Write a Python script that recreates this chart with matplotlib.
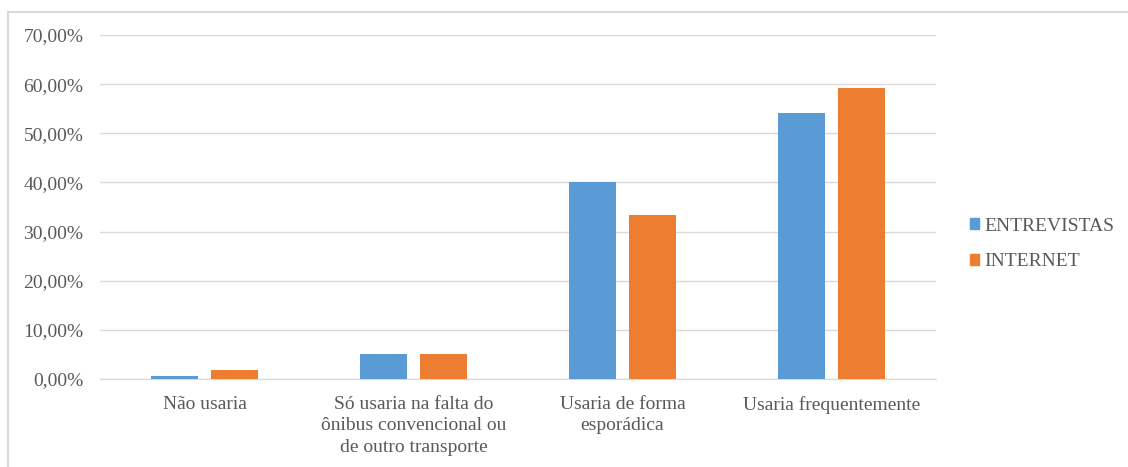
import numpy as np
import matplotlib.pyplot as plt
from matplotlib.lines import Line2D
from matplotlib.patches import Patch

categories = ['Não usaria',
              'Só usaria na falta do\nônibus convencional ou\nde outro transporte',
              'Usaria de forma\nesporádica',
              'Usaria frequentemente']
entrevistas = [0.6, 5.1, 40.0, 54.2]
internet = [1.9, 5.1, 33.3, 59.3]
series_names = ['ENTREVISTAS', 'INTERNET']
colors = ['#5b9bd5', '#ed7d31']
yticks = [0, 10, 20, 30, 40, 50, 60, 70]

plt.rcParams['font.family'] = ['Liberation Serif', 'DejaVu Serif']
text_color = '#595959'
fs = 14

fig = plt.figure(figsize=(11.28, 4.67), dpi=100)
ax = fig.add_axes([100 / 1128, 1 - 379 / 467, 836 / 1128, 344 / 467])

x = np.arange(len(categories))
w = 0.225
off = 0.143
ax.bar(x - off, entrevistas, w, color=colors[0], zorder=3)
ax.bar(x + off, internet, w, color=colors[1], zorder=3)

ax.set_xlim(-0.5, len(categories) - 0.5)
ax.set_ylim(0, 70)
ax.set_yticks(yticks)
ax.set_yticklabels(['%d,00%%' % v for v in yticks], fontsize=fs, color=text_color)
ax.set_xticks(x)
ax.set_xticklabels(categories, fontsize=fs, color=text_color, linespacing=1.37)
ax.tick_params(length=0)
ax.tick_params(axis='y', pad=12)
ax.tick_params(axis='x', pad=12)
ax.yaxis.grid(True, color='#d9d9d9', linewidth=1, zorder=0)
for s in ['top', 'right', 'left']:
    ax.spines[s].set_visible(False)
ax.spines['bottom'].set_color('#d9d9d9')

handles = [Patch(color=c) for c in colors]
fig.legend(handles, series_names, loc='center left', bbox_to_anchor=(952 / 1128, 1 - 244 / 467),
           frameon=False, fontsize=fs, labelcolor=text_color, handlelength=0.5, handleheight=0.5,
           handletextpad=0.25, labelspacing=0.95)

# outer chart border
fig.add_artist(Line2D([8 / 1128, 1], [1 - 12 / 467, 1 - 12 / 467], color='#d9d9d9', lw=1.5))
fig.add_artist(Line2D([8 / 1128, 8 / 1128], [0, 1 - 12 / 467], color='#d9d9d9', lw=1.5))

fig.savefig('out.png', dpi=100)
